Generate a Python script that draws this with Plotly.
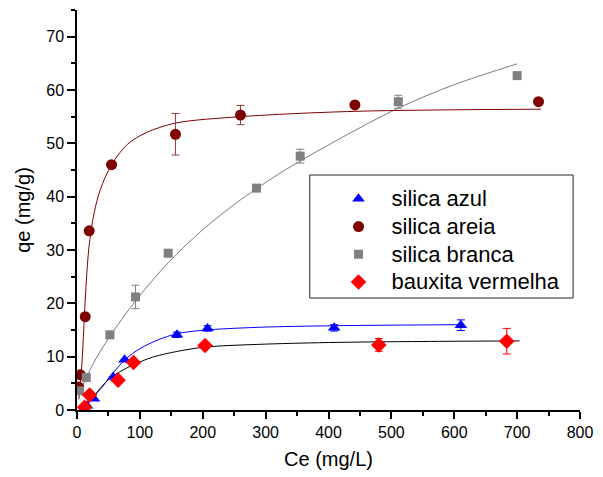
import plotly.graph_objects as go

# Measured adsorption data: equilibrium concentration Ce (mg/L) vs uptake qe (mg/g)
azul_ce = [16, 27, 57.5, 75.7, 159, 207.7, 409, 610.5]
azul_qe = [0.8, 2.1, 6.2, 9.4, 14.1, 15.3, 15.4, 15.9]
azul_err = [0, 0, 0, 0, 0.5, 0.5, 0.6, 1.0]

areia_ce = [2.7, 5.3, 13.1, 19.4, 55, 156.6, 260, 442, 734]
areia_qe = [4.3, 6.6, 17.5, 33.6, 46.0, 51.7, 55.3, 57.2, 57.8]
areia_err = [0, 0, 0, 0, 0, 3.9, 1.8, 0, 0]

branca_ce = [4.2, 14.7, 52.3, 93, 145, 285.5, 355, 511, 700]
branca_qe = [3.6, 6.1, 14.1, 21.2, 29.4, 41.6, 47.6, 57.8, 62.7]
branca_err = [0, 0, 0, 2.2, 0.5, 0.5, 1.3, 1.2, 0]

bauxita_ce = [12, 20, 65.3, 89.8, 203.6, 480, 683.5]
bauxita_qe = [0.5, 2.8, 5.6, 8.9, 12.1, 12.2, 12.9]
bauxita_err = [0, 0, 0, 0, 0.5, 1.2, 2.4]

# Isotherm fit curves
azul_fit_ce = [3, 15, 27, 40, 52, 65, 78, 100, 130, 159, 200, 287, 410, 612]
azul_fit_qe = [0, 0.9, 2.6, 4.3, 6.2, 8.0, 9.6, 11.5, 13.2, 14.3, 14.95, 15.5, 15.8, 16.0]

areia_fit_ce = [3, 8, 13, 19, 27, 37, 55, 80, 110, 157, 260, 442, 738]
areia_fit_qe = [2, 9, 20.5, 30.5, 36.8, 41.3, 46.0, 49.8, 52.0, 53.8, 55.0, 56.0, 56.4]

branca_fit_ce = [4, 14.7, 30, 52.3, 94, 145, 200, 260, 331, 420, 511, 600, 700]
branca_fit_qe = [3.2, 6.0, 9.6, 13.8, 20.6, 27.6, 33.8, 39.4, 45.0, 51.0, 56.6, 61.0, 64.9]

bauxita_fit_ce = [3, 20, 35, 52, 70, 90, 120, 160, 204, 287, 400, 550, 704]
bauxita_fit_qe = [0, 1.7, 3.8, 5.9, 7.3, 8.5, 9.9, 11.0, 11.8, 12.3, 12.65, 12.85, 12.95]

BLUE = "#0000ff"
DARKRED = "#800000"
GREY = "#808080"
RED = "#ff0000"

fig = go.Figure()

# fitted curves (drawn first so markers sit on top)
for cx, qy, col in [
    (branca_fit_ce, branca_fit_qe, "#7a7a7a"),
    (areia_fit_ce, areia_fit_qe, DARKRED),
    (azul_fit_ce, azul_fit_qe, BLUE),
    (bauxita_fit_ce, bauxita_fit_qe, "#000000"),
]:
    fig.add_trace(go.Scatter(
        x=cx, y=qy, mode="lines", showlegend=False, hoverinfo="skip",
        line=dict(color=col, width=1, shape="spline", smoothing=0.9),
    ))

series = [
    ("silica azul", azul_ce, azul_qe, azul_err, BLUE, BLUE, "triangle-up", 11),
    ("silica areia", areia_ce, areia_qe, areia_err, DARKRED, "#9a3a3a", "circle", 11),
    ("silica branca", branca_ce, branca_qe, branca_err, GREY, GREY, "square", 9),
    ("bauxita vermelha", bauxita_ce, bauxita_qe, bauxita_err, RED, RED, "diamond", 12),
]
for name, cx, qy, err, col, ecol, sym, sz in series:
    fig.add_trace(go.Scatter(
        x=cx, y=qy, mode="markers",
        name='<span style="font-size:22px">%s</span>' % name,
        marker=dict(color=col, symbol=sym, size=sz, line=dict(width=0)),
        error_y=dict(type="data", array=err, color=ecol, thickness=1, width=4),
    ))

FONT = "Liberation Sans, Arial, sans-serif"

# legend frame (pixel box converted to paper coordinates)
L, R, T, B = 77, 587, 10, 410
def px_x(p):
    return (p - L) / (R - L)
def px_y(p):
    return (B - p) / (B - T)

fig.add_shape(type="rect", xref="paper", yref="paper",
              x0=px_x(313), x1=px_x(580), y0=px_y(298), y1=px_y(175),
              line=dict(color="#222222", width=1), fillcolor="white", layer="above")

axis_common = dict(showgrid=False, zeroline=False, linecolor="black", linewidth=1.5,
                   tickcolor="black", tickwidth=1.5)

fig.update_layout(
    width=603, height=477,
    margin=dict(l=L, r=603 - R, t=T, b=477 - B),
    paper_bgcolor="white", plot_bgcolor="white",
    font=dict(family=FONT, color="black"),
    xaxis=dict(range=[0, 800], dtick=100, tick0=0, ticks="outside", ticklen=7,
               showline=True, tickfont=dict(size=16),
               minor=dict(dtick=50, ticks="outside", ticklen=4, tickwidth=1.5, tickcolor="black"),
               title=dict(text="Ce (mg/L)", font=dict(size=20), standoff=12),
               **axis_common),
    yaxis=dict(range=[0, 75], dtick=10, tick0=0, ticks="outside", ticklen=8,
               showline=True, tickfont=dict(size=16),
               minor=dict(dtick=5, ticks="outside", ticklen=4, tickwidth=1.5, tickcolor="black"),
               title=dict(text="qe (mg/g)", font=dict(size=20), standoff=10),
               **axis_common),
    xaxis2=dict(range=[0, 800], dtick=100, tick0=0, overlaying="x", side="top", anchor="y",
                ticks="inside", ticklen=7, showticklabels=False, showline=True,
                minor=dict(dtick=50, ticks="inside", ticklen=4, tickwidth=1.5, tickcolor="black"),
                **axis_common),
    yaxis2=dict(range=[0, 75], dtick=10, tick0=0, overlaying="y", side="right", anchor="x",
                ticks="inside", ticklen=8, showticklabels=False, showline=True,
                minor=dict(dtick=5, ticks="inside", ticklen=4, tickwidth=1.5, tickcolor="black"),
                **axis_common),
    legend=dict(x=px_x(329), y=px_y(180), xanchor="left", yanchor="top",
                bgcolor="rgba(0,0,0,0)", borderwidth=0, itemwidth=56,
                font=dict(size=19, family=FONT, color="black")),
)

fig.write_html("out.html")
